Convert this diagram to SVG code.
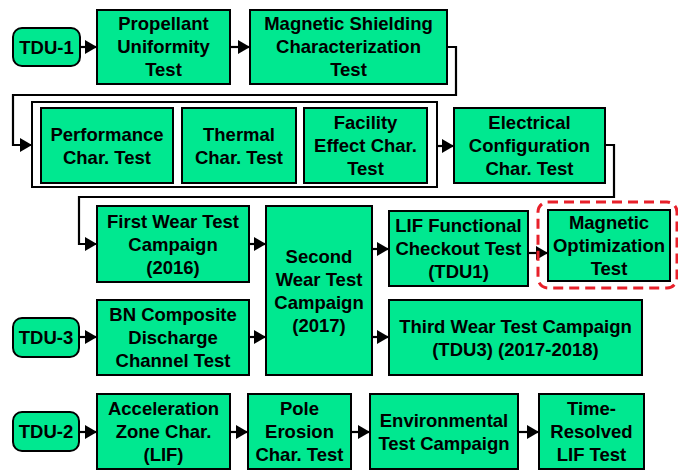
<svg xmlns="http://www.w3.org/2000/svg" width="678" height="470" viewBox="0 0 678 470">
  <style>
    .box { fill: #00e890; stroke: #000; stroke-width: 2; }
    .group { fill: #fff; stroke: #000; stroke-width: 2; }
    .hl { fill: none; stroke: #e8202a; stroke-width: 3; stroke-dasharray: 10 6; }
    .lbl { font-family: "Liberation Sans", Arial, sans-serif; font-weight: bold; font-size: 18.5px; fill: #000; text-anchor: middle; }
    .wire { fill: none; stroke: #000; stroke-width: 2.2; marker-end: url(#tip); }
  </style>
  <defs>
    <marker id="tip" markerUnits="userSpaceOnUse" markerWidth="12" markerHeight="14" refX="12" refY="7" orient="auto">
      <path d="M0,0 L12,7 L0,14 z" fill="#000"/>
    </marker>
  </defs>
  <rect width="678" height="470" fill="#fff"/>

  <!-- connectors -->
  <g id="connectors">
    <path class="wire" d="M80,47 H97"/>
    <path class="wire" d="M230,47 H250"/>
    <path class="wire" d="M447,47 H456 V95 H13 V145 H32"/>
    <path class="wire" d="M437,146 H454"/>
    <path class="wire" d="M605,145 H614 V197 H79 V244 H97"/>
    <path class="wire" d="M249,244 H266"/>
    <path class="wire" d="M249,337 H266"/>
    <path class="wire" d="M79,337 H97"/>
    <path class="wire" d="M372,249 H389"/>
    <path class="wire" d="M372,337 H389"/>
    <path class="wire" d="M528,253 H548"/>
    <path class="wire" d="M79,432 H97"/>
    <path class="wire" d="M230,432 H248"/>
    <path class="wire" d="M351,432 H370"/>
    <path class="wire" d="M518,432 H539"/>
  </g>

  <!-- TDU-1 path -->
  <g id="tdu1">
    <rect class="box" x="13" y="28" width="67" height="38" rx="9"/>
    <text class="lbl" x="46.5" y="53.5">TDU-1</text>
  </g>
  <g id="propellant">
    <rect class="box" x="97" y="10" width="133" height="74"/>
    <text class="lbl" x="163.5" y="30">Propellant<tspan x="163.5" dy="23">Uniformity</tspan><tspan x="163.5" dy="23">Test</tspan></text>
  </g>
  <g id="magshield">
    <rect class="box" x="250" y="10" width="197" height="74"/>
    <text class="lbl" x="348.5" y="30">Magnetic Shielding<tspan x="348.5" dy="23">Characterization</tspan><tspan x="348.5" dy="23">Test</tspan></text>
  </g>

  <g id="chargroup">
    <rect class="group" x="32" y="102" width="405" height="85"/>
  </g>
  <g id="performance">
    <rect class="box" x="41" y="108" width="132" height="75"/>
    <text class="lbl" x="107" y="140.5">Performance<tspan x="107" dy="23">Char. Test</tspan></text>
  </g>
  <g id="thermal">
    <rect class="box" x="182" y="108" width="114" height="75"/>
    <text class="lbl" x="239" y="140.5">Thermal<tspan x="239" dy="23">Char. Test</tspan></text>
  </g>
  <g id="facility">
    <rect class="box" x="304" y="108" width="123" height="75"/>
    <text class="lbl" x="365.5" y="129">Facility<tspan x="365.5" dy="23">Effect Char.</tspan><tspan x="365.5" dy="23">Test</tspan></text>
  </g>
  <g id="electrical">
    <rect class="box" x="454" y="108" width="151" height="75"/>
    <text class="lbl" x="529.5" y="129">Electrical<tspan x="529.5" dy="23">Configuration</tspan><tspan x="529.5" dy="23">Char. Test</tspan></text>
  </g>

  <g id="firstwear">
    <rect class="box" x="97" y="206" width="152" height="76"/>
    <text class="lbl" x="173" y="227.5">First Wear Test<tspan x="173" dy="23">Campaign</tspan><tspan x="173" dy="23">(2016)</tspan></text>
  </g>
  <g id="secondwear">
    <rect class="box" x="266" y="206" width="106" height="169"/>
    <text class="lbl" x="319" y="263">Second<tspan x="319" dy="23">Wear Test</tspan><tspan x="319" dy="23">Campaign</tspan><tspan x="319" dy="23">(2017)</tspan></text>
  </g>
  <g id="lif">
    <rect class="box" x="389" y="211" width="139" height="75"/>
    <text class="lbl" x="458.5" y="232">LIF Functional<tspan x="458.5" dy="23">Checkout Test</tspan><tspan x="458.5" dy="23">(TDU1)</tspan></text>
  </g>
  <g id="magopt">
    <rect class="hl" x="538" y="202" width="139" height="86" rx="10"/>
    <rect class="box" x="548" y="210" width="122" height="71"/>
    <text class="lbl" x="609" y="229">Magnetic<tspan x="609" dy="23">Optimization</tspan><tspan x="609" dy="23">Test</tspan></text>
  </g>

  <!-- TDU-3 path -->
  <g id="tdu3">
    <rect class="box" x="13" y="318" width="66" height="39" rx="9"/>
    <text class="lbl" x="46" y="344">TDU-3</text>
  </g>
  <g id="bn">
    <rect class="box" x="97" y="300" width="152" height="75"/>
    <text class="lbl" x="173" y="321">BN Composite<tspan x="173" dy="23">Discharge</tspan><tspan x="173" dy="23">Channel Test</tspan></text>
  </g>
  <g id="thirdwear">
    <rect class="box" x="389" y="300" width="253" height="75"/>
    <text class="lbl" x="515.5" y="332.5">Third Wear Test Campaign<tspan x="515.5" dy="23">(TDU3) (2017-2018)</tspan></text>
  </g>

  <!-- TDU-2 path -->
  <g id="tdu2">
    <rect class="box" x="13" y="412" width="66" height="39" rx="9"/>
    <text class="lbl" x="46" y="438">TDU-2</text>
  </g>
  <g id="acceleration">
    <rect class="box" x="97" y="394" width="133" height="75"/>
    <text class="lbl" x="163.5" y="415">Acceleration<tspan x="163.5" dy="23">Zone Char.</tspan><tspan x="163.5" dy="23">(LIF)</tspan></text>
  </g>
  <g id="pole">
    <rect class="box" x="248" y="394" width="103" height="75"/>
    <text class="lbl" x="299.5" y="415">Pole<tspan x="299.5" dy="23">Erosion</tspan><tspan x="299.5" dy="23">Char. Test</tspan></text>
  </g>
  <g id="environmental">
    <rect class="box" x="370" y="394" width="148" height="75"/>
    <text class="lbl" x="444" y="426.5">Environmental<tspan x="444" dy="23">Test Campaign</tspan></text>
  </g>
  <g id="timeresolved">
    <rect class="box" x="539" y="394" width="105" height="75"/>
    <text class="lbl" x="591.5" y="415">Time-<tspan x="591.5" dy="23">Resolved</tspan><tspan x="591.5" dy="23">LIF Test</tspan></text>
  </g>
</svg>
